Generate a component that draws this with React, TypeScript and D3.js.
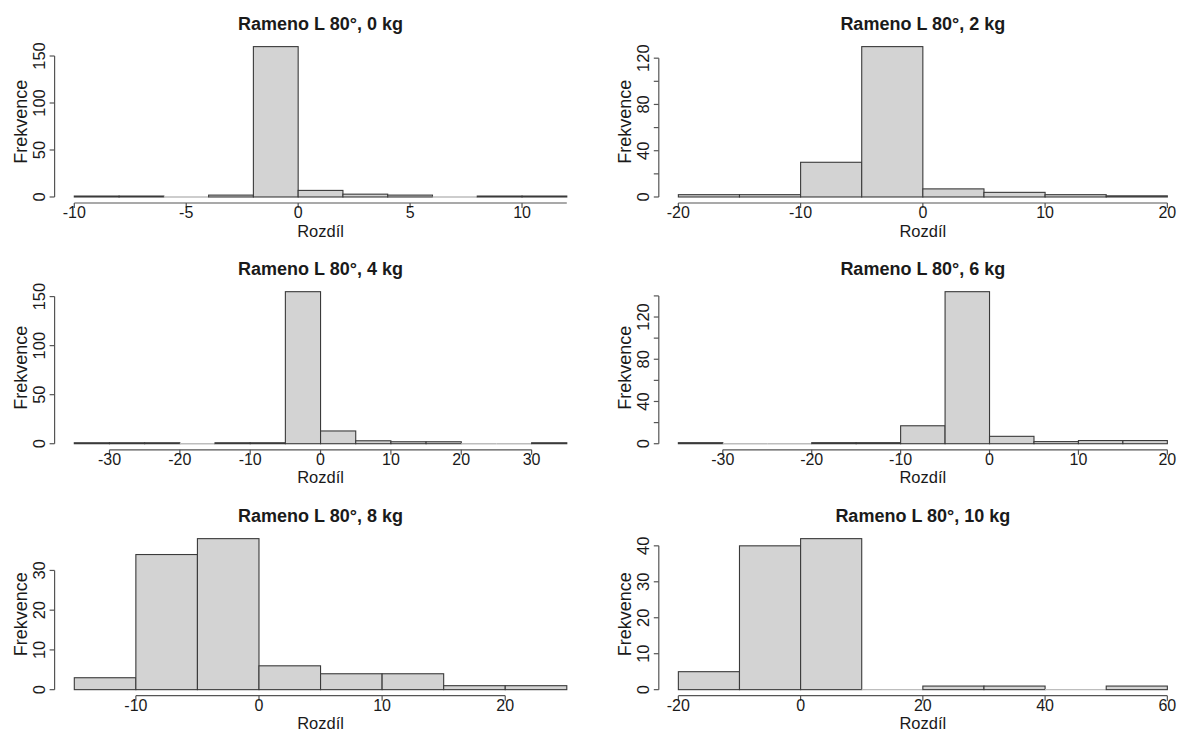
import React from "react";
import * as d3 from "d3";

// ---- data ----
const titles = [
  "Rameno L 80°, 0 kg",
  "Rameno L 80°, 2 kg",
  "Rameno L 80°, 4 kg",
  "Rameno L 80°, 6 kg",
  "Rameno L 80°, 8 kg",
  "Rameno L 80°, 10 kg",
];

const breaks0 = [-10, -8, -6, -4, -2, 0, 2, 4, 6, 8, 10, 12];
const counts0 = [1, 1, 0, 2, 160, 7, 3, 2, 0, 1, 1];
const xTicks0 = [-10, -5, 0, 5, 10];
const yTicks0 = [0, 50, 100, 150];
const yLabels0 = [0, 50, 100, 150];

const breaks2 = [-20, -15, -10, -5, 0, 5, 10, 15, 20];
const counts2 = [2, 2, 30, 130, 7, 4, 2, 1];
const xTicks2 = [-20, -10, 0, 10, 20];
const yTicks2 = [0, 20, 40, 60, 80, 100, 120];
const yLabels2 = [0, 40, 80, 120];

const breaks4 = [-35, -30, -25, -20, -15, -10, -5, 0, 5, 10, 15, 20, 25, 30, 35];
const counts4 = [1, 1, 1, 0, 1, 1, 155, 13, 3, 2, 2, 0, 0, 1];
const xTicks4 = [-30, -20, -10, 0, 10, 20, 30];
const yTicks4 = [0, 50, 100, 150];
const yLabels4 = [0, 50, 100, 150];

const breaks6 = [-35, -30, -25, -20, -15, -10, -5, 0, 5, 10, 15, 20];
const counts6 = [1, 0, 0, 1, 1, 17, 144, 7, 2, 3, 3];
const xTicks6 = [-30, -20, -10, 0, 10, 20];
const yTicks6 = [0, 20, 40, 60, 80, 100, 120, 140];
const yLabels6 = [0, 40, 80, 120];

const breaks8 = [-15, -10, -5, 0, 5, 10, 15, 20, 25];
const counts8 = [3, 34, 38, 6, 4, 4, 1, 1];
const xTicks8 = [-10, 0, 10, 20];
const yTicks8 = [0, 10, 20, 30];
const yLabels8 = [0, 10, 20, 30];

const breaks10 = [-20, -10, 0, 10, 20, 30, 40, 50, 60];
const counts10 = [5, 40, 42, 0, 1, 1, 0, 1];
const xTicks10 = [-20, 0, 20, 40, 60];
const yTicks10 = [0, 10, 20, 30, 40];
const yLabels10 = [0, 10, 20, 30, 40];

const xLabel = "Rozdíl";
const yLabel = "Frekvence";

const panels = [
  { title: titles[0], breaks: breaks0, counts: counts0, xTicks: xTicks0, xEnd: 12, yTicks: yTicks0, yLabels: yLabels0 },
  { title: titles[1], breaks: breaks2, counts: counts2, xTicks: xTicks2, yTicks: yTicks2, yLabels: yLabels2 },
  { title: titles[2], breaks: breaks4, counts: counts4, xTicks: xTicks4, yTicks: yTicks4, yLabels: yLabels4 },
  { title: titles[3], breaks: breaks6, counts: counts6, xTicks: xTicks6, yTicks: yTicks6, yLabels: yLabels6 },
  { title: titles[4], breaks: breaks8, counts: counts8, xTicks: xTicks8, yTicks: yTicks8, yLabels: yLabels8 },
  { title: titles[5], breaks: breaks10, counts: counts10, xTicks: xTicks10, yTicks: yTicks10, yLabels: yLabels10 },
];

// ---- layout ----
const COLS = [
  [54.6, 586.5],
  [658.8, 1186.9],
];
const ROWS = [
  [40.6, 203],
  [285.6, 449.8],
  [532.6, 695.7],
];

const FONT = "'Liberation Sans', Arial, Helvetica, sans-serif";
const TEXT = "#1a1a1a";
const AXIS = "#555";
const BAR_STROKE = "#3a3a3a";
const BAR_FILL = "#d3d3d3";

function Panel({ p, col, row }: any) {
  const [x0, x1] = COLS[col];
  const [y0, y1] = ROWS[row];
  const bMin = p.breaks[0];
  const bMax = p.breaks[p.breaks.length - 1];
  const pad = 0.04 * (bMax - bMin);
  const xs = d3.scaleLinear().domain([bMin - pad, bMax + pad]).range([x0, x1]);
  const yMax = d3.max(p.counts as number[]) as number;
  const ys = d3.scaleLinear().domain([-0.04 * yMax, 1.04 * yMax]).range([y1, y0]);

  const axisY = y1;
  const axisX = x0;
  const tick = 5;
  const xa0 = p.xTicks[0];
  const xa1 = p.xEnd !== undefined ? p.xEnd : p.xTicks[p.xTicks.length - 1];
  const ya1 = p.yTicks[p.yTicks.length - 1];
  const midX = (x0 + x1) / 2;
  const midY = (y0 + y1) / 2;

  return (
    <g>
      {p.counts.map((c: number, i: number) => {
        const bx0 = xs(p.breaks[i]);
        const bx1 = xs(p.breaks[i + 1]);
        if (c === 0) {
          return (
            <line key={i} x1={bx0} x2={bx1} y1={ys(0)} y2={ys(0)} stroke="#bdbdbd" strokeWidth={1.4} />
          );
        }
        return (
          <rect
            key={i}
            x={bx0}
            y={ys(c)}
            width={bx1 - bx0}
            height={ys(0) - ys(c)}
            fill={BAR_FILL}
            stroke={BAR_STROKE}
            strokeWidth={1.1}
          />
        );
      })}
      <line x1={xs(xa0)} x2={xs(xa1)} y1={axisY} y2={axisY} stroke={AXIS} strokeWidth={1.2} />
      {p.xTicks.map((t: number) => (
        <g key={"xt" + t}>
          <line x1={xs(t)} x2={xs(t)} y1={axisY} y2={axisY + tick} stroke={AXIS} strokeWidth={1.2} />
          <text x={xs(t)} y={axisY + 15} textAnchor="middle" fontSize={16} fill={TEXT} fontFamily={FONT}>
            {t}
          </text>
        </g>
      ))}
      <line x1={axisX} x2={axisX} y1={ys(0)} y2={ys(ya1)} stroke={AXIS} strokeWidth={1.2} />
      {p.yTicks.map((t: number) => (
        <line key={"yt" + t} x1={axisX - tick} x2={axisX} y1={ys(t)} y2={ys(t)} stroke={AXIS} strokeWidth={1.2} />
      ))}
      {p.yLabels.map((t: number) => (
        <text
          key={"yl" + t}
          transform={`translate(${axisX - 10},${ys(t)}) rotate(-90)`}
          textAnchor="middle"
          fontSize={16.5}
          fill={TEXT}
          fontFamily={FONT}
        >
          {t}
        </text>
      ))}
      <text x={midX} y={y0 - 11} textAnchor="middle" fontSize={18} fontWeight="bold" fill={TEXT} fontFamily={FONT}>
        {p.title}
      </text>
      <text x={midX} y={y1 + 33.5} textAnchor="middle" fontSize={16.5} fill={TEXT} fontFamily={FONT}>
        {xLabel}
      </text>
      <text
        transform={`translate(${axisX - 28},${midY}) rotate(-90)`}
        textAnchor="middle"
        fontSize={18}
        fill={TEXT}
        fontFamily={FONT}
      >
        {yLabel}
      </text>
    </g>
  );
}

export default function App() {
  return (
    <svg
      width={1186}
      height={733}
      style={{ position: "absolute", left: 0, top: 0, background: "#fff", display: "block" }}
    >
      <rect x={0} y={0} width={1186} height={733} fill="#fff" />
      {panels.map((p, i) => (
        <Panel key={i} p={p} col={i % 2} row={Math.floor(i / 2)} />
      ))}
    </svg>
  );
}
